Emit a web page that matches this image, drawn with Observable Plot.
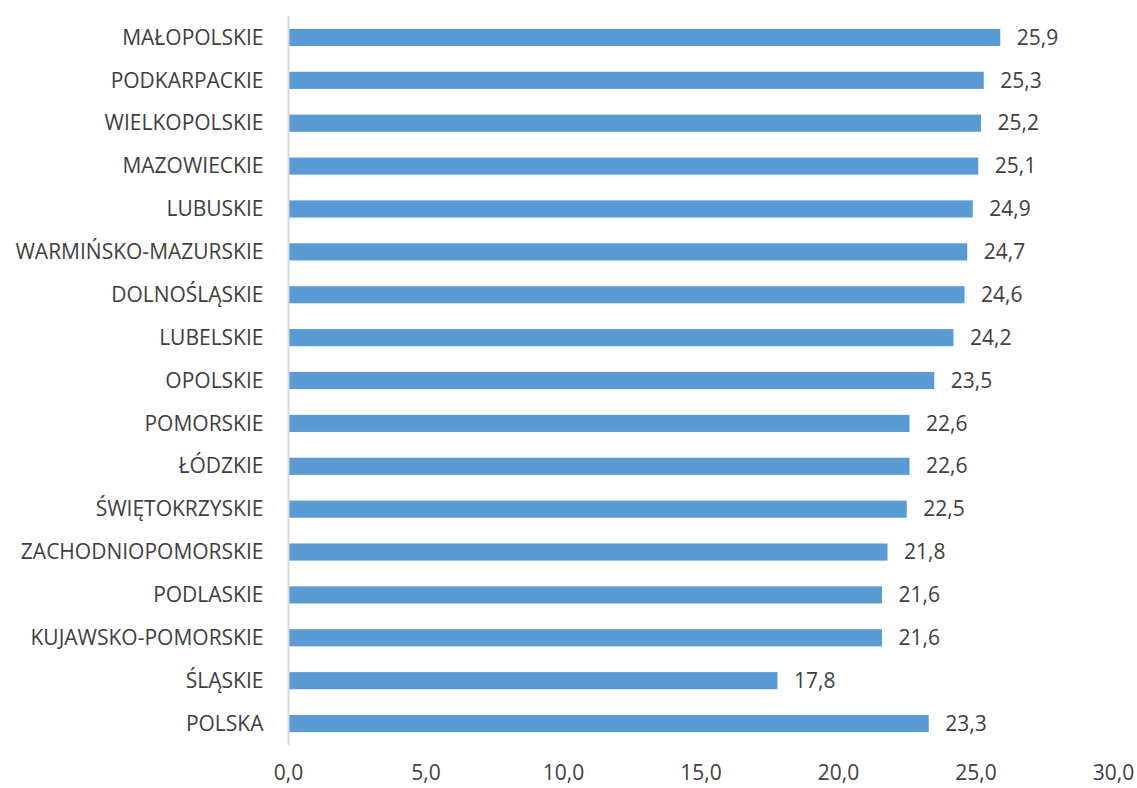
<!DOCTYPE html>
<html>
<head>
<meta charset="utf-8">
<script src="https://cdn.jsdelivr.net/npm/d3@7"></script>
<script src="https://cdn.jsdelivr.net/npm/@observablehq/plot@0.6"></script>
<style>
  html, body { margin: 0; padding: 0; background: #fff; }
  #chart svg { display: block; }
</style>
</head>
<body>
<div id="chart"></div>
<script>
const regions = [
  "MAŁOPOLSKIE", "PODKARPACKIE", "WIELKOPOLSKIE", "MAZOWIECKIE", "LUBUSKIE",
  "WARMIŃSKO-MAZURSKIE", "DOLNOŚLĄSKIE", "LUBELSKIE", "OPOLSKIE", "POMORSKIE",
  "ŁÓDZKIE", "ŚWIĘTOKRZYSKIE", "ZACHODNIOPOMORSKIE", "PODLASKIE",
  "KUJAWSKO-POMORSKIE", "ŚLĄSKIE", "POLSKA"
];
const values = [25.9, 25.3, 25.2, 25.1, 24.9, 24.7, 24.6, 24.2, 23.5, 22.6, 22.6, 22.5, 21.8, 21.6, 21.6, 17.8, 23.3];
const xTicks = [0, 5, 10, 15, 20, 25, 30];

const data = regions.map((r, i) => ({region: r, value: values[i]}));
const fmt = d => d.toFixed(1).replace(".", ",");

const chart = Plot.plot({
  width: 1137,
  height: 788,
  marginLeft: 288,
  marginRight: 24,
  marginTop: 16,
  marginBottom: 43,
  style: {fontFamily: "'Open Sans', sans-serif", fontSize: "21px", color: "#404040", background: "#fff"},
  x: {domain: [0, 30], ticks: xTicks, tickFormat: fmt, label: null},
  y: {domain: regions, paddingInner: 0.6, paddingOuter: 0.3, round: false, label: null},
  marks: [
    Plot.barX(data, {x: "value", y: "region", fill: "#5b9bd5"}),
    Plot.ruleX([0], {stroke: "#d9d9d9", strokeWidth: 2}),
    Plot.text(data, {x: "value", y: "region", text: d => fmt(d.value), textAnchor: "start", dx: 16, fill: "#404040", fontSize: 21}),
    Plot.axisY({tickSize: 0, tickPadding: 25, label: null, fontSize: 21}),
    Plot.axisX({ticks: xTicks, tickFormat: fmt, tickSize: 0, tickPadding: 20, label: null, fontSize: 21})
  ]
});
document.getElementById("chart").appendChild(chart);
</script>
</body>
</html>
